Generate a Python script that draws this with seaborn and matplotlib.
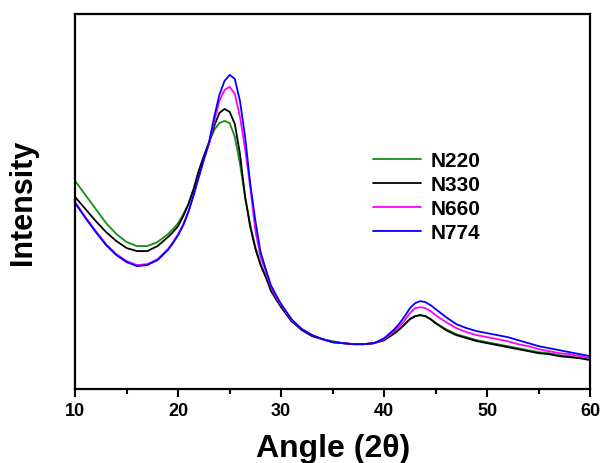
import numpy as np
import pandas as pd
import seaborn as sns
import matplotlib
matplotlib.use('Agg')
import matplotlib.pyplot as plt

# 2-theta positions and intensities (arbitrary units)
angle = [10, 11, 12, 13, 14, 15, 16, 17, 18, 19, 19.5, 20, 20.5, 21, 21.5,
         22, 22.5, 23, 23.5, 24, 24.5, 25, 25.5, 26, 26.5, 27, 27.5, 28, 28.5,
         29, 29.5, 30, 31, 32, 33, 34, 35, 36, 37, 38, 39, 40, 41, 41.5, 42,
         42.5, 43, 43.5, 44, 44.5, 45,
         46, 47, 48, 49, 50, 51, 52, 53, 54, 55, 56, 57, 58, 59, 60]

n220 = [208, 194, 180, 166, 155, 147, 143, 143, 147, 155, 160, 166, 175, 185, 200,
        218, 233, 247, 259, 266, 268, 266, 252, 225, 192, 164, 142, 125, 113,
        98, 90, 82, 68, 60, 54, 50, 48, 46, 45, 45, 46, 49, 56, 60, 65,
        70, 73, 74, 73, 70, 66,
        60, 55, 52, 49, 47, 45, 43, 41, 39, 37, 36, 34, 33, 31, 30]

n330 = [192, 180, 168, 157, 148, 141, 138, 138, 143, 152, 157, 163, 173, 185, 200,
        218, 233, 246, 263, 276, 280, 277, 265, 235, 192, 162, 140, 124, 112,
        99, 90, 82, 68, 59, 53, 50, 47, 46, 45, 45, 46, 49, 56, 60, 65,
        70, 73, 74, 73, 70, 66,
        59, 54, 51, 48, 46, 44, 42, 40, 38, 36, 35, 33, 32, 31, 29]

n660 = [187, 172, 158, 145, 135, 128, 124, 125, 130, 140, 147, 155, 165, 178, 194,
        212, 229, 245, 268, 288, 299, 302, 295, 272, 240, 202, 158, 132, 118,
        102, 92, 84, 69, 60, 54, 50, 47, 46, 45, 45, 46, 50, 58, 63, 69,
        76, 81, 82, 81, 78, 74,
        67, 61, 57, 54, 52, 50, 48, 45, 43, 40, 38, 36, 35, 33, 31]

n774 = [186, 171, 157, 144, 134, 127, 123, 124, 129, 139, 146, 154, 164, 177, 194,
        212, 230, 247, 272, 294, 308, 314, 310, 288, 252, 205, 168, 137, 120,
        104, 94, 85, 70, 60, 54, 50, 47, 46, 45, 45, 46, 51, 60, 66, 73,
        81, 86, 88, 87, 84, 80,
        72, 65, 61, 58, 56, 54, 52, 49, 46, 43, 41, 39, 37, 35, 33]

samples = ['N220', 'N330', 'N660', 'N774']
colors = ['#158f15', '#000000', '#ff00ff', '#0000ff']
major_ticks = [10, 20, 30, 40, 50, 60]
minor_ticks = [15, 25, 35, 45, 55]

df = pd.concat([pd.DataFrame({'angle': angle, 'intensity': v, 'sample': s})
                for s, v in zip(samples, [n220, n330, n660, n774])])

sns.set_style('ticks')
plt.rcParams.update({
    'font.family': ['Liberation Sans', 'DejaVu Sans'],
    'font.weight': 'bold',
    'text.color': 'black',
    'axes.labelcolor': 'black',
    'xtick.color': 'black',
    'xtick.major.size': 0,
    'xtick.minor.size': 0,
    'xtick.major.pad': 9,
    'xtick.labelsize': 13,
    'ytick.left': False,
})

fig = plt.figure(figsize=(6.06, 4.64), dpi=100)
ax = fig.add_axes([0.124, 0.159, 0.85, 0.809])

sns.lineplot(data=df, x='angle', y='intensity', hue='sample',
             palette=dict(zip(samples, colors)), linewidth=1.3, ax=ax,
             estimator=None, sort=False)

ax.set_xlim(10, 60)
ax.set_ylim(0, 375)
ax.set_xticks(major_ticks)
ax.set_xticks(minor_ticks, minor=True)
ax.set_yticks([])
for sp in ax.spines.values():
    sp.set_linewidth(1.6)
    sp.set_color('black')

# outward tick marks below the bottom axis
xt = ax.get_xaxis_transform()
ax.vlines(major_ticks, -0.022, 0, transform=xt, colors='black',
          linewidth=1.5, clip_on=False, zorder=5)
ax.vlines(minor_ticks, -0.013, 0, transform=xt, colors='black',
          linewidth=1.5, clip_on=False, zorder=5)

ax.set_xlabel('Angle (2θ)', fontsize=23, fontweight='bold', labelpad=10)
ax.set_ylabel('Intensity', fontsize=22, fontweight='bold', labelpad=27)

leg = ax.legend(loc='center left', bbox_to_anchor=(0.542, 0.513), frameon=False,
                fontsize=15, handlelength=2.3, handletextpad=0.45,
                labelspacing=0.25, title=None)
for t in leg.get_texts():
    t.set_fontweight('bold')

fig.savefig('out.png', dpi=100)
